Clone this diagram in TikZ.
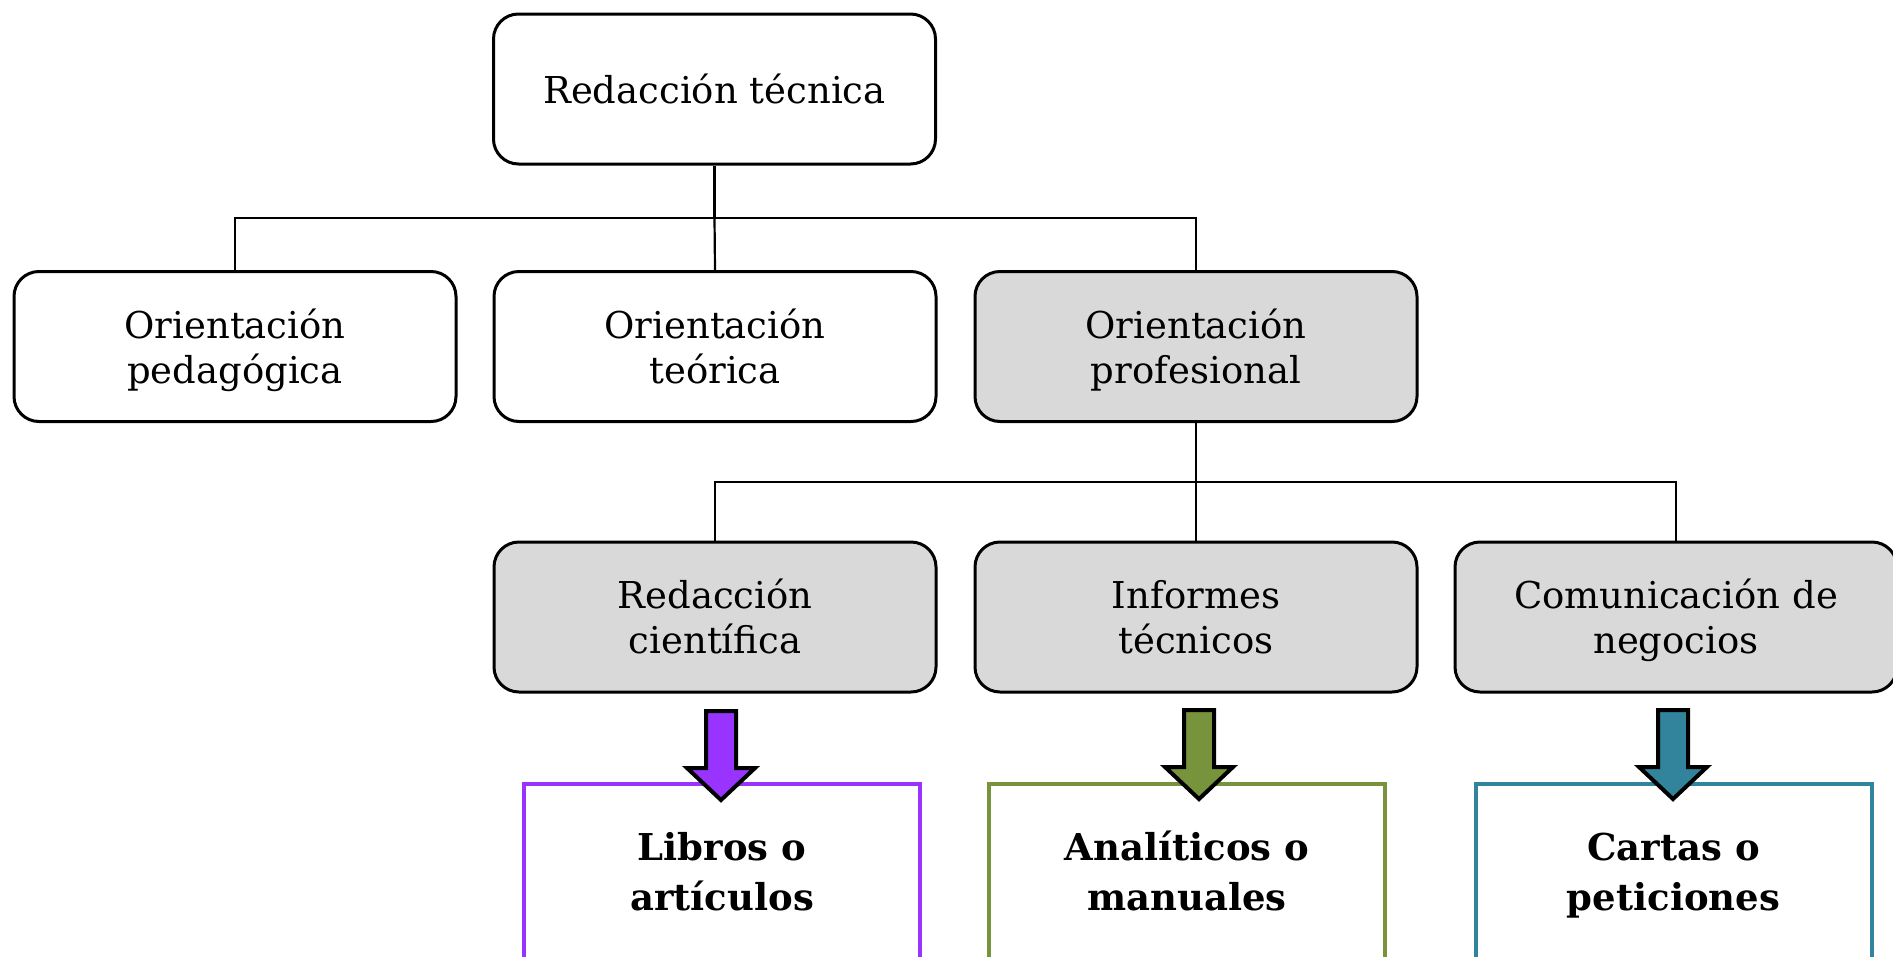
\documentclass[tikz,border=0pt]{standalone}
\usepackage{fontspec}
\setmainfont{DejaVu Serif}
\definecolor{boxgray}{HTML}{D9D9D9}
\definecolor{purp}{HTML}{9933FF}
\definecolor{olive}{HTML}{77933C}
\definecolor{teal}{HTML}{31849B}
\tikzset{
  rbox/.style={draw=black, line width=3pt, rounded corners=25pt, minimum width=442pt, minimum height=150pt, align=center, font=\fontsize{37}{45}\selectfont, inner sep=0pt, text height=83pt, text depth=10pt},
  gbox/.style={rbox, fill=boxgray},
  wbox/.style={rbox, fill=white},
  resbox/.style={draw, line width=4pt, fill=white, minimum width=396pt, minimum height=176pt, align=center, font=\fontsize{37}{50}\selectfont\bfseries, inner sep=0pt, text height=88pt, text depth=12pt},
  conn/.style={draw=black, line width=2.2pt},
  blockarr/.style={draw=black, line width=4pt, line join=miter, miter limit=10},
}
\begin{document}
\begin{tikzpicture}[x=1pt, y=-1pt]
\useasboundingbox (0,0) rectangle (1893,956);
% level 1
\node[wbox, text height=38pt] (top) at (714.5,89) {Redacción técnica};
% level 2
\node[wbox] (ped) at (235,346.5) {Orientación\\pedagógica};
\node[wbox] (teo) at (715,346.5) {Orientación\\teórica};
\node[gbox] (pro) at (1196,346.5) {Orientación\\profesional};
% level 3
\node[gbox] (rc) at (715,617) {Redacción\\científica};
\node[gbox] (it) at (1196,617) {Informes\\técnicos};
\node[gbox] (cn) at (1676,617) {Comunicación de\\negocios};
% connectors
\coordinate (j1) at (714.5,218);
\coordinate (j2) at (1196,482);
\draw[conn] (top.south) -- (j1);
\draw[conn] (ped.north) |- (j1);
\draw[conn] (teo.north) -- (j1);
\draw[conn] (pro.north) |- (j1);
\draw[conn] (pro.south) -- (j2);
\draw[conn] (rc.north) |- (j2);
\draw[conn] (it.north) -- (j2);
\draw[conn] (cn.north) |- (j2);
% result boxes
\node[resbox, draw=purp] (lib) at (722,872) {Libros o\\artículos};
\node[resbox, draw=olive] (ana) at (1187,872) {Analíticos o\\manuales};
\node[resbox, draw=teal] (car) at (1673.5,872) {Cartas o\\peticiones};
% block arrows
\coordinate (a1) at (721,711);
\coordinate (a2) at (1199,710);
\coordinate (a3) at (1673,710);
\foreach \c/\col in {a1/purp, a2/olive, a3/teal}{
  \draw[blockarr, fill=\col, shift={(\c)}] (-15,0) -- (15,0) -- (15,57) -- (34,57) -- (0,89) -- (-34,57) -- (-15,57) -- cycle;
}
\end{tikzpicture}
\end{document}
